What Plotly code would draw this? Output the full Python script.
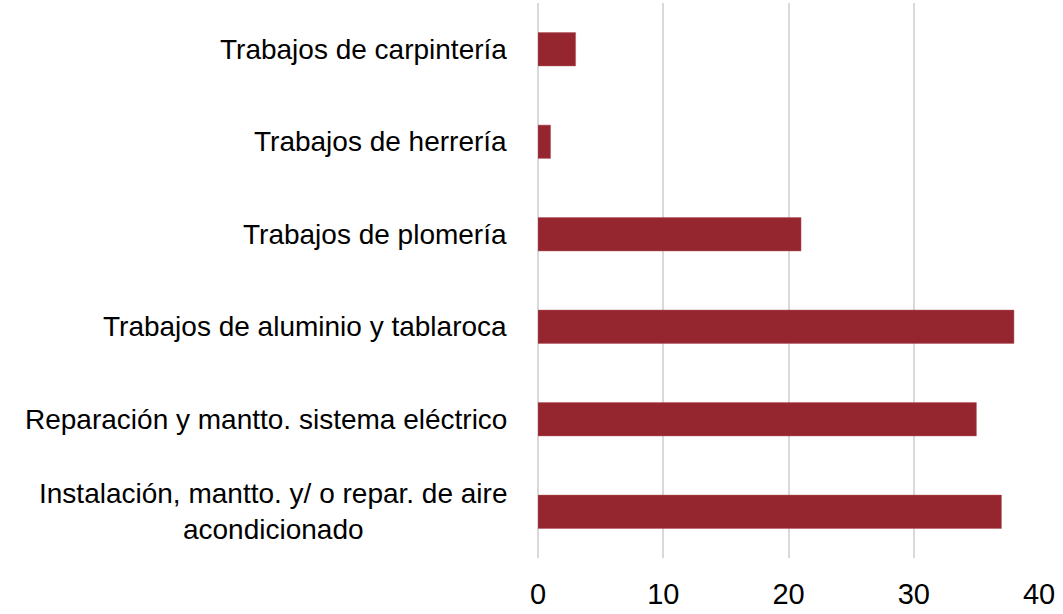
import plotly.graph_objects as go

# categorías (de abajo hacia arriba)
categorias = [
    "Instalación, mantto. y/ o repar. de aire<br>acondicionado",
    "Reparación y mantto. sistema eléctrico",
    "Trabajos de aluminio y tablaroca",
    "Trabajos de plomería",
    "Trabajos de herrería",
    "Trabajos de carpintería",
]
valores = [37, 35, 38, 21, 1, 3]
ticks_x = [0, 10, 20, 30, 40]

color_barra = "#952630"
fuente = "Liberation Sans, Arial, sans-serif"

fig = go.Figure()
fig.add_trace(go.Bar(
    x=valores,
    y=categorias,
    orientation="h",
    width=0.36,
    marker=dict(color=color_barra, line=dict(color="#b0545b", width=0.5)),
))

# etiquetas de categorías como anotaciones (centradas en varias líneas)
for cat in categorias:
    fig.add_annotation(
        x=-0.058, xref="paper", y=cat, yref="y",
        text=cat, showarrow=False,
        xanchor="right", align="center",
        font=dict(family=fuente, size=28, color="#000000"),
    )

fig.update_xaxes(
    range=[0, 40],
    tickvals=ticks_x,
    showgrid=True, gridcolor="#d9d9d9", gridwidth=2,
    zeroline=True, zerolinecolor="#d9d9d9", zerolinewidth=2,
    showline=False,
    tickfont=dict(family=fuente, size=29, color="#000000"),
    ticks="",
    ticklabelstandoff=16,
    automargin=False,
)
fig.update_yaxes(
    showticklabels=False,
    showgrid=False,
    categoryorder="array", categoryarray=categorias,
    automargin=False,
)

fig.update_layout(
    width=1063, height=614,
    paper_bgcolor="white", plot_bgcolor="white",
    margin=dict(l=538, r=24, t=3, b=56),
    showlegend=False,
    font=dict(family=fuente),
)

# quitar el margen por defecto del body para que la figura ocupe toda la ventana
fig.write_html("out.html", config={"displayModeBar": False},
               post_script="document.body.style.margin='0';")
